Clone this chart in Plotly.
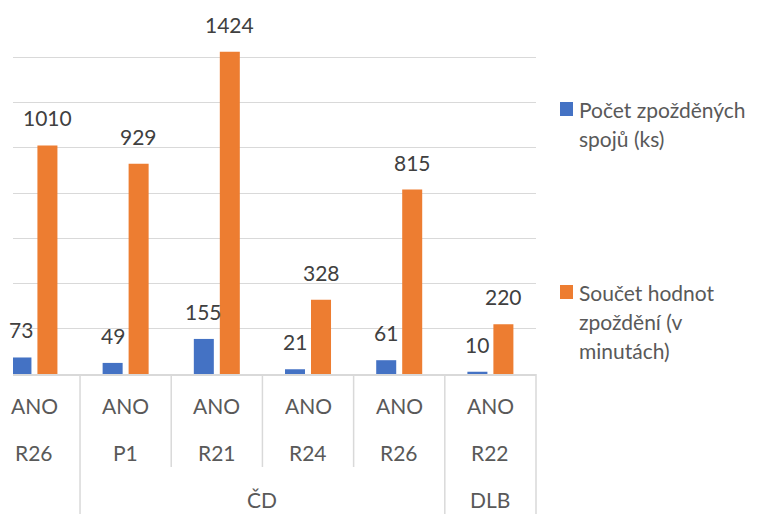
import plotly.graph_objects as go

# categories (three levels of the Excel axis)
flag = ['ANO', 'ANO', 'ANO', 'ANO', 'ANO', 'ANO']
line = ['R26', 'P1', 'R21', 'R24', 'R26', 'R22']
carriers = [('ČD', 1, 4), ('DLB', 5, 5)]

delayed = [73, 49, 155, 21, 61, 10]
delay_sum = [1010, 929, 1424, 328, 815, 220]

names = ['Počet zpožděných spojů (ks)', 'Součet hodnot zpoždění (v minutách)']
legend_lines = [['Počet zpožděných', 'spojů (ks)'],
                ['Součet hodnot', 'zpoždění (v', 'minutách)']]
colors = ['#4472C4', '#ED7D31']

FONT = 'Lato'
x = list(range(len(line)))
xr = [-0.235, 5.5]
ymax = 1600

fig = go.Figure()
for vals, nm, col in zip([delayed, delay_sum], names, colors):
    fig.add_trace(go.Bar(x=x, y=vals, name=nm, marker_color=col,
                         marker_line_width=0, showlegend=False))

# data labels
off = 0.1425
for vals, sgn in zip([delayed, delay_sum], [-1, 1]):
    for i, v in enumerate(vals):
        fig.add_annotation(x=i + sgn * off, y=v, text=str(v), showarrow=False,
                           yanchor='bottom', yshift=13,
                           font=dict(size=21, color='#404040'))

# multi-level category labels
H = 362.0
def py(pix):  # pixel below axis -> paper y
    return -pix / H

for i in x:
    fig.add_annotation(x=i, y=py(31), yref='paper', text=flag[i], showarrow=False,
                       yanchor='middle', font=dict(size=21, color='#595959'))
    fig.add_annotation(x=i, y=py(78), yref='paper', text=line[i], showarrow=False,
                       yanchor='middle', font=dict(size=21, color='#595959'))
for name, a, b in carriers:
    fig.add_annotation(x=(a + b) / 2, y=py(125), yref='paper', text=name, showarrow=False,
                       yanchor='middle', font=dict(size=21, color='#595959'))

# separators between categories
def px(v):
    return (v - xr[0]) / (xr[1] - xr[0])

group_ends = {0.5, 4.5, 5.5}
for b in [i + 0.5 for i in x]:
    depth = 145 if b in group_ends else 93
    fig.add_shape(type='line', xref='paper', yref='paper', x0=px(b), x1=px(b),
                  y0=0, y1=py(depth), line=dict(color='#D9D9D9', width=1.5))

# legend drawn by hand (Excel style)
W = 523.0
sq_top = [102, 285]
for top, col, lines in zip(sq_top, colors, legend_lines):
    fig.add_shape(type='rect', xref='paper', yref='paper',
                  x0=(560 - 13) / W, x1=(573 - 13) / W,
                  y0=(374 - top) / H, y1=(374 - top - 14) / H,
                  fillcolor=col, line_width=0)
    for k, t in enumerate(lines):
        fig.add_annotation(xref='paper', yref='paper', x=(577 - 13) / W,
                           y=(374 - top - 7 - 29 * k) / H, text=t, showarrow=False,
                           xanchor='left', yanchor='middle',
                           font=dict(size=21, color='#595959'))

# page body has an 8px margin, so the figure margins are shifted by it
fig.update_layout(
    width=759, height=514,
    margin=dict(l=5, r=231, t=4, b=148),
    plot_bgcolor='white', paper_bgcolor='white',
    font=dict(family=FONT),
    barmode='group', bargap=0.43, bargroupgap=0.23,
)
fig.update_xaxes(range=xr, showticklabels=False, showgrid=False, zeroline=False,
                 showline=True, linecolor='#D9D9D9', linewidth=1.5)
fig.update_yaxes(range=[0, ymax], dtick=200, showticklabels=False, zeroline=False,
                 gridcolor='#D9D9D9', gridwidth=1.3)

fig.write_html("out.html")
